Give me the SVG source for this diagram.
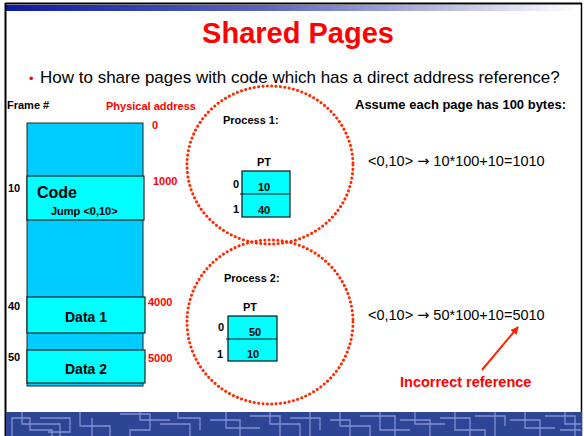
<svg xmlns="http://www.w3.org/2000/svg" width="584" height="436" viewBox="0 0 584 436">
<defs>
<linearGradient id="topbar" x1="0" y1="0" x2="1" y2="0">
<stop offset="0" stop-color="#0B1AA6"/>
<stop offset="0.45" stop-color="#5C66BC"/>
<stop offset="1" stop-color="#FFFFFF"/>
</linearGradient>
<marker id="arr" viewBox="0 0 10 10" refX="9" refY="5" markerWidth="4" markerHeight="4" orient="auto">
<path d="M0,0 L10,5 L0,10 z" fill="#FF2200"/>
</marker>
<style>
text{font-family:"Liberation Sans",Arial,sans-serif;}
.b{font-weight:bold;}
.red{fill:#FF0000;}
.mem{fill:#00CCFF;stroke:#222;stroke-width:1;}
.seg{fill:#00FFFF;stroke:#222;stroke-width:1.2;}
.pt{fill:#00FFFF;stroke:#111;stroke-width:1.2;}
.circ{fill:none;stroke:#FF2A00;stroke-width:3;stroke-dasharray:0.1 4.3;stroke-linecap:round;}
.lbl{font-size:11px;font-weight:bold;}
.ar{font-family:"DejaVu Sans",sans-serif;}
.pat{fill:none;stroke:#8390D2;stroke-width:1.3;}
</style>
</defs>
<rect x="0" y="0" width="584" height="436" fill="#FFFFFF"/>
<!-- slide frame -->
<rect x="6" y="5" width="575" height="6" fill="url(#topbar)"/>
<line x1="5" y1="3.5" x2="582" y2="3.5" stroke="#000" stroke-width="2"/>
<line x1="5.5" y1="3" x2="5.5" y2="436" stroke="#000" stroke-width="2"/>
<line x1="581.5" y1="3" x2="581.5" y2="436" stroke="#000" stroke-width="1.5"/>
<!-- bottom band -->
<g id="band">
<rect x="6" y="412" width="576" height="24" fill="#2E4494"/>
<path class="pat" d="M12,436 V418 H30 V430 H52 V436 M22,412 V424 H60 V436 M40,418 H70 V432 H48 M80,412 V426 H110 V436 M92,418 V436 M120,414 H150 V430 H130 V436 M140,412 V420 H170 M160,424 H190 V436 M178,412 V418 H200 V430 M210,420 H240 V436 M226,412 V428 H260 M250,416 H280 V436 M270,412 V424 H300 V436 M290,418 H320 V430 M310,412 V436 M330,420 H350 V436 M340,412 V426 H370 V436 M360,416 H395 V436 M380,412 V430 H410 M400,420 H430 V436 M415,412 V424 H445 M440,418 H470 V436 M455,412 V430 H485 V436 M475,416 H505 V426 M495,412 V436 M510,420 H540 V436 M525,412 V428 H555 M545,416 H575 V436 M565,412 V424 H581 M560,430 H581"/>
</g>
<!-- title -->
<text x="298" y="43" text-anchor="middle" class="b red" font-size="29">Shared Pages</text>
<text x="29" y="83" font-size="13" fill="#FF0000">•</text>
<text x="40" y="83" font-size="17" fill="#000">How to share pages with code which has a direct address reference?</text>
<!-- memory -->
<g id="memory">
<rect class="mem" x="27" y="123" width="116" height="263"/>
</g>
<g id="code">
<rect class="seg" x="27" y="176" width="117" height="44"/>
<text x="37" y="198" class="b" font-size="16">Code</text>
<text x="51" y="215" class="b" font-size="11">Jump &lt;0,10&gt;</text>
</g>
<g id="data1">
<rect class="seg" x="27" y="297" width="118" height="36"/>
<text x="86" y="322" class="b" font-size="14" text-anchor="middle">Data 1</text>
</g>
<g id="data2">
<rect class="seg" x="27" y="350" width="118" height="33"/>
<text x="86" y="374" class="b" font-size="14" text-anchor="middle">Data 2</text>
</g>
<g id="labels">
<text x="7" y="109" class="lbl">Frame #</text>
<text x="106" y="110" class="lbl red">Physical address</text>
<text x="152" y="129" class="lbl red">0</text>
<text x="8" y="192" class="lbl">10</text>
<text x="153" y="185" class="lbl red">1000</text>
<text x="8" y="310" class="lbl">40</text>
<text x="148" y="306" class="lbl red">4000</text>
<text x="8" y="361" class="lbl">50</text>
<text x="148" y="362" class="lbl red">5000</text>
</g>
<!-- process 1 -->
<g id="process1">
<ellipse class="circ" cx="270" cy="165" rx="83" ry="79"/>
<text x="223" y="124" class="lbl">Process 1:</text>
<text x="257" y="166" class="lbl">PT</text>
<rect class="pt" x="242" y="171" width="48" height="46"/>
<line x1="240" y1="194" x2="290" y2="194" stroke="#111" stroke-width="1.2"/>
<text x="233" y="188" class="lbl">0</text>
<text x="233" y="213" class="lbl">1</text>
<text x="264" y="191" class="lbl" text-anchor="middle">10</text>
<text x="264" y="214" class="lbl" text-anchor="middle">40</text>
</g>
<!-- process 2 -->
<g id="process2">
<ellipse class="circ" cx="270" cy="322" rx="83" ry="82"/>
<text x="224" y="282" class="lbl">Process 2:</text>
<text x="243" y="311" class="lbl">PT</text>
<rect class="pt" x="228" y="316" width="49" height="45"/>
<line x1="226" y1="339" x2="277" y2="339" stroke="#111" stroke-width="1.2"/>
<text x="218" y="331" class="lbl">0</text>
<text x="217" y="358" class="lbl">1</text>
<text x="249" y="336" class="lbl">50</text>
<text x="247" y="358" class="lbl">10</text>
</g>
<!-- right side -->
<g id="notes">
<text x="355" y="109" class="b" font-size="13">Assume each page has 100 bytes:</text>
<text x="368" y="166" font-size="14.5">&lt;0,10&gt; <tspan class="ar">→</tspan> 10*100+10=1010</text>
<text x="368" y="320" font-size="14.5">&lt;0,10&gt; <tspan class="ar">→</tspan> 50*100+10=5010</text>
<text x="400" y="387" class="b red" font-size="14.5">Incorrect reference</text>
</g>
<g id="connectors">
<line x1="482" y1="370" x2="518" y2="327" stroke="#FF2200" stroke-width="2" marker-end="url(#arr)"/>
</g>
</svg>
